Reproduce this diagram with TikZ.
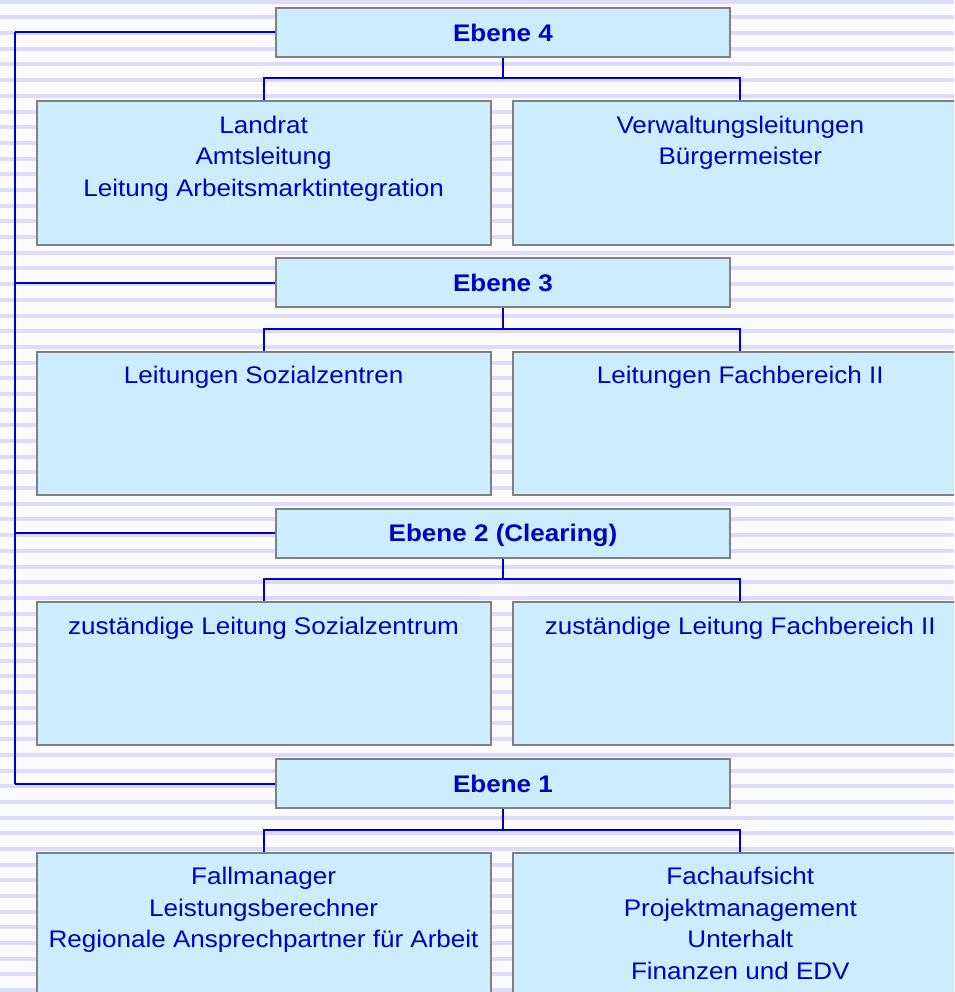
\documentclass[tikz,border=0pt]{standalone}
\usepackage{fontspec}
\setmainfont{Liberation Sans}[FakeStretch=1.085]
\definecolor{boxfill}{RGB}{204,236,255}
\definecolor{boxline}{RGB}{128,128,128}
\definecolor{txt}{RGB}{0,0,192}
\definecolor{conn}{RGB}{0,0,200}
\definecolor{bgbase}{RGB}{251,251,255}
\definecolor{stripe}{RGB}{220,220,250}
\pgfdeclarelayer{stripes}
\pgfdeclarelayer{links}
\pgfsetlayers{stripes,links,main}
\newcommand{\boxtext}[1]{\begin{minipage}[t][143pt][t]{454pt}\centering\rule{0pt}{32pt}#1\end{minipage}}
\tikzset{
  lvl/.style={draw=boxline, line width=2pt, fill=boxfill, minimum width=454pt, minimum height=49pt,
    inner sep=0pt, text height=17.2pt, text depth=0pt, font=\fontsize{24}{31.5}\selectfont\bfseries, text=txt},
  unit/.style={draw=boxline, line width=2pt, fill=boxfill, inner sep=0pt, anchor=north, text=txt,
    font=\fontsize{24}{31.5}\selectfont},
  link/.style={draw=conn, line width=2pt}
}
\begin{document}
\begin{tikzpicture}[x=1pt,y=-1pt]
\useasboundingbox (0,0) rectangle (954,992);
\clip (0,0) rectangle (954,992);
\begin{pgfonlayer}{stripes}
  \fill[bgbase] (0,0) rectangle (954,992);
  \foreach \i in {0,...,63} {
    \fill[stripe] (0,{1.7+15.69*\i-2}) rectangle (954,{1.7+15.69*\i+2});
  }
\end{pgfonlayer}

% Ebene 4
\node[lvl] (e4) at (503,32.5) {Ebene 4};
\node[unit] (l4) at (263.6,100.5) {\boxtext{Landrat\\Amtsleitung\\Leitung Arbeitsmarktintegration}};
\node[unit] (r4) at (740.3,100.5) {\boxtext{Verwaltungsleitungen\\Bürgermeister}};
\coordinate (b4) at (503,78.5);

% Ebene 3
\node[lvl] (e3) at (503,282.8) {Ebene 3};
\node[unit] (l3) at (263.6,350.8) {\boxtext{Leitungen Sozialzentren}};
\node[unit] (r3) at (740.3,350.8) {\boxtext{Leitungen Fachbereich II}};
\coordinate (b3) at (503,328.8);

% Ebene 2
\node[lvl] (e2) at (503,533.2) {Ebene 2 (Clearing)};
\node[unit] (l2) at (263.6,601.2) {\boxtext{zuständige Leitung Sozialzentrum}};
\node[unit] (r2) at (740.3,601.2) {\boxtext{zuständige Leitung Fachbereich II}};
\coordinate (b2) at (503,579.2);

% Ebene 1
\node[lvl] (e1) at (503,783.5) {Ebene 1};
\node[unit] (l1) at (263.6,851.5) {\boxtext{Fallmanager\\Leistungsberechner\\Regionale Ansprechpartner für Arbeit}};
\node[unit] (r1) at (740.3,851.5) {\boxtext{Fachaufsicht\\Projektmanagement\\Unterhalt\\Finanzen und EDV}};
\coordinate (b1) at (503,829.5);

\coordinate (spine) at (15,0);

\begin{pgfonlayer}{links}
  \foreach \n in {4,3,2,1} {
    \draw[link] (e\n.south) -- (b\n);
    \draw[link] (l\n.north) |- (b\n) -| (r\n.north);
    \draw[link] (e\n.west) -- (e\n.west -| spine);
  }
  \draw[link] (e4.west -| spine) -- (e1.west -| spine);
\end{pgfonlayer}
\end{tikzpicture}
\end{document}
